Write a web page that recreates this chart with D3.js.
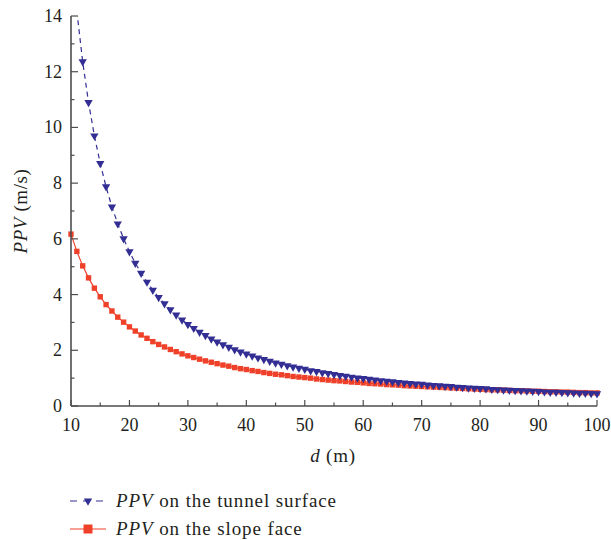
<!DOCTYPE html>
<html>
<head>
<meta charset="utf-8">
<script src="https://cdn.jsdelivr.net/npm/d3@7"></script>
<style>
  body { margin: 0; background: #fff; }
  svg text { font-family: "Liberation Serif", "Times New Roman", serif; fill: #231f20; }
</style>
</head>
<body>
<svg id="chart" width="611" height="540"></svg>
<script>
// Distancias (m)
const dTunnel = d3.range(11, 101);
const dSlope = d3.range(10, 101);

// PPV en la superficie del túnel (m/s)
const ppvTunnel = [
  14.17, 12.36, 10.90, 9.70, 8.71, 7.87, 7.15, 6.54, 6.01, 5.54,
  5.13, 4.77, 4.45, 4.16, 3.90, 3.67, 3.46, 3.27, 3.09, 2.93,
  2.79, 2.65, 2.53, 2.41, 2.30, 2.20, 2.11, 2.02, 1.94, 1.87,
  1.80, 1.73, 1.67, 1.61, 1.55, 1.50, 1.45, 1.40, 1.36, 1.32,
  1.27, 1.24, 1.20, 1.17, 1.13, 1.10, 1.07, 1.04, 1.01, 0.99,
  0.96, 0.94, 0.91, 0.89, 0.87, 0.85, 0.83, 0.81, 0.79, 0.78,
  0.76, 0.74, 0.73, 0.71, 0.70, 0.68, 0.67, 0.65, 0.64, 0.63,
  0.62, 0.60, 0.59, 0.58, 0.57, 0.56, 0.55, 0.54, 0.53, 0.52,
  0.51, 0.50, 0.50, 0.49, 0.48, 0.47, 0.46, 0.46, 0.45, 0.44
];

// PPV en la cara del talud (m/s)
const ppvSlope = [
  6.17, 5.55, 5.03, 4.60, 4.23, 3.92, 3.64, 3.41, 3.19, 3.01, 2.84,
  2.69, 2.55, 2.43, 2.31, 2.21, 2.12, 2.03, 1.95, 1.87, 1.80,
  1.74, 1.68, 1.62, 1.57, 1.52, 1.47, 1.43, 1.38, 1.34, 1.31,
  1.27, 1.24, 1.20, 1.17, 1.14, 1.12, 1.09, 1.06, 1.04, 1.02,
  1.00, 0.97, 0.95, 0.93, 0.91, 0.90, 0.88, 0.86, 0.85, 0.83,
  0.81, 0.80, 0.79, 0.77, 0.76, 0.75, 0.73, 0.72, 0.71, 0.70,
  0.69, 0.68, 0.67, 0.66, 0.65, 0.64, 0.63, 0.62, 0.61, 0.60,
  0.59, 0.58, 0.58, 0.57, 0.56, 0.55, 0.55, 0.54, 0.53, 0.53,
  0.52, 0.51, 0.51, 0.50, 0.50, 0.49, 0.48, 0.48, 0.47, 0.47
];

const xTicks = [10, 20, 30, 40, 50, 60, 70, 80, 90, 100];
const yTicks = [0, 2, 4, 6, 8, 10, 12, 14];
const legendLabels = [" on the tunnel surface", " on the slope face"];

const blue = '#332e93';
const red = '#ef4129';
const axisColor = '#4d4d4f';

const svg = d3.select('#chart');

const x = d3.scaleLinear().domain([10, 100]).range([71, 597]);
const y = d3.scaleLinear().domain([0, 14]).range([406, 16]);

// Zona de recorte del área de trazado
svg.append('defs').append('clipPath').attr('id', 'plot')
  .append('rect')
  .attr('x', x(10) - 8).attr('y', y(14))
  .attr('width', x(100) - x(10) + 16).attr('height', y(0) - y(14) + 8);

const tunnel = dTunnel.map((d, i) => ({ d: d, v: ppvTunnel[i] }));
const slope = dSlope.map((d, i) => ({ d: d, v: ppvSlope[i] }));

const line = d3.line().x(p => x(p.d)).y(p => y(p.v));

const plot = svg.append('g').attr('clip-path', 'url(#plot)');

// Cara del talud
plot.append('path')
  .datum(slope)
  .attr('d', line)
  .attr('fill', 'none')
  .attr('stroke', red)
  .attr('stroke-width', 1.2);

plot.selectAll('.sq')
  .data(slope)
  .enter()
  .append('rect')
  .attr('x', p => x(p.d) - 2.7)
  .attr('y', p => y(p.v) - 2.7)
  .attr('width', 5.4)
  .attr('height', 5.4)
  .attr('fill', red);

// Superficie del túnel
plot.append('path')
  .datum(tunnel)
  .attr('d', line)
  .attr('fill', 'none')
  .attr('stroke', blue)
  .attr('stroke-width', 1.2)
  .attr('stroke-dasharray', '5,4');

const tri = d3.symbol().type(d3.symbolTriangle).size(30);

plot.selectAll('.tri')
  .data(tunnel)
  .enter()
  .append('path')
  .attr('d', tri)
  .attr('transform', p => `translate(${x(p.d)},${y(p.v)}) rotate(180)`)
  .attr('fill', blue);

// Ejes con marcas hacia dentro
const xAxis = svg.append('g');
xAxis.append('line')
  .attr('x1', x(10)).attr('x2', x(100))
  .attr('y1', y(0)).attr('y2', y(0))
  .attr('stroke', axisColor).attr('stroke-width', 1.6);

const xMinor = d3.range(15, 100, 10);
xAxis.selectAll('.xt')
  .data(xTicks.concat(xMinor))
  .enter()
  .append('line')
  .attr('x1', d => x(d)).attr('x2', d => x(d))
  .attr('y1', y(0))
  .attr('y2', d => y(0) - (d % 10 === 0 ? 6 : 3.5))
  .attr('stroke', axisColor).attr('stroke-width', 1.2);

xAxis.selectAll('.xl')
  .data(xTicks)
  .enter()
  .append('text')
  .attr('x', d => x(d))
  .attr('y', 431)
  .attr('text-anchor', 'middle')
  .attr('font-size', 18)
  .text(d => d);

const yAxis = svg.append('g');
yAxis.append('line')
  .attr('x1', x(10)).attr('x2', x(10))
  .attr('y1', y(0)).attr('y2', y(14))
  .attr('stroke', axisColor).attr('stroke-width', 1.6);

const yMinor = d3.range(1, 14, 2);
yAxis.selectAll('.yt')
  .data(yTicks.concat(yMinor))
  .enter()
  .append('line')
  .attr('x1', x(10))
  .attr('x2', d => x(10) + (d % 2 === 0 ? 7 : 3.5))
  .attr('y1', d => y(d)).attr('y2', d => y(d))
  .attr('stroke', axisColor).attr('stroke-width', 1.2);

yAxis.selectAll('.yl')
  .data(yTicks)
  .enter()
  .append('text')
  .attr('x', 62)
  .attr('y', d => y(d) + 6)
  .attr('text-anchor', 'end')
  .attr('font-size', 18)
  .text(d => d);

// Títulos de los ejes
const xTitle = svg.append('text')
  .attr('x', 333)
  .attr('y', 462)
  .attr('text-anchor', 'middle')
  .attr('font-size', 19)
  .attr('letter-spacing', 0.8);
xTitle.append('tspan').attr('font-style', 'italic').text('d');
xTitle.append('tspan').text(' (m)');

const yTitle = svg.append('text')
  .attr('transform', 'translate(27,211) rotate(-90)')
  .attr('text-anchor', 'middle')
  .attr('font-size', 19)
  .attr('letter-spacing', 0.6);
yTitle.append('tspan').attr('font-style', 'italic').text('PPV');
yTitle.append('tspan').text(' (m/s)');

// Leyenda
const legend = svg.append('g');
const rows = [501, 529];

legend.append('line')
  .attr('x1', 70).attr('x2', 106)
  .attr('y1', rows[0]).attr('y2', rows[0])
  .attr('stroke', blue).attr('stroke-width', 1.2)
  .attr('stroke-dasharray', '7,6');
legend.append('path')
  .attr('d', tri)
  .attr('transform', `translate(88,${rows[0]}) rotate(180)`)
  .attr('fill', blue);

legend.append('line')
  .attr('x1', 70).attr('x2', 106)
  .attr('y1', rows[1]).attr('y2', rows[1])
  .attr('stroke', red).attr('stroke-width', 1.2);
legend.append('rect')
  .attr('x', 83.5).attr('y', rows[1] - 4.5)
  .attr('width', 9).attr('height', 9)
  .attr('fill', red);

legendLabels.forEach((lab, i) => {
  const t = legend.append('text')
    .attr('x', 116)
    .attr('y', rows[i] + 6)
    .attr('font-size', 19)
    .attr('letter-spacing', 0.9);
  t.append('tspan').attr('font-style', 'italic').text('PPV');
  t.append('tspan').text(lab);
});
</script>
</body>
</html>
